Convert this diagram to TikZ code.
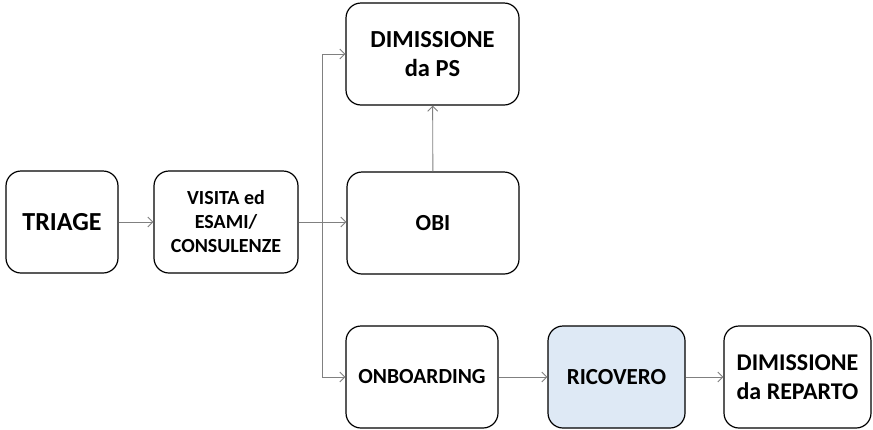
\documentclass[tikz,border=0pt]{standalone}
\usepackage{fontspec}
\setmainfont{Carlito}
\usetikzlibrary{arrows.meta}

\definecolor{paleblue}{RGB}{222,233,245}

\tikzstyle{flowchart}=[%
	every path/.style = {%
		line width=0.9pt
	},%
	stepbox/.style={%
		draw=black,
		line width=1.2pt,
		rounded corners=15pt,
		align=center,
		minimum height=102pt,
		font=\bfseries\fontsize{23}{28}\selectfont
	},%
	link/.style={%
		draw=gray,
		-{Straight Barb[length=5pt,width=10pt]}
	}
]

\begin{document}
\begin{tikzpicture}[
	x=1pt, y=-1pt,
	flowchart
]
	\useasboundingbox [fill=white] (0,0) rectangle (873,429);

	\node[stepbox, minimum width=112pt, font=\bfseries\fontsize{26}{30}\selectfont] (triage) at (62,222) {TRIAGE};
	\node[stepbox, minimum width=144pt, font=\bfseries\fontsize{20}{24}\selectfont] (visita) at (226,222) {VISITA ed\\ESAMI/\\CONSULENZE};
	\node[stepbox, minimum width=173pt, font=\bfseries\fontsize{24.5}{29}\selectfont] (dimps) at (432.5,54) {DIMISSIONE\\da PS};
	\node[stepbox, minimum width=172pt] (obi) at (433,223) {OBI};
	\node[stepbox, minimum width=152pt, font=\bfseries\fontsize{21.5}{26}\selectfont] (onboard) at (422,377) {ONBOARDING};
	\node[stepbox, minimum width=137pt, fill=paleblue] (ricovero) at (616.5,377) {RICOVERO};
	\node[stepbox, minimum width=147pt, font=\bfseries\fontsize{24}{29}\selectfont] (dimrep) at (797.5,377) {DIMISSIONE\\da REPARTO};

	\coordinate (split) at (322,222);

	\draw[link] (triage) -- (visita);
	\draw[link] (visita.east) -- (visita.east -| obi.west);
	\draw[draw=gray] (split |- dimps) -- (split |- onboard);
	\draw[link] (split |- dimps) -- (dimps.west);
	\draw[link] (split |- onboard) -- (onboard.west);
	\draw[link] (obi) -- (dimps);
	\draw[link] (onboard) -- (ricovero);
	\draw[link] (ricovero) -- (dimrep);
\end{tikzpicture}
\end{document}
